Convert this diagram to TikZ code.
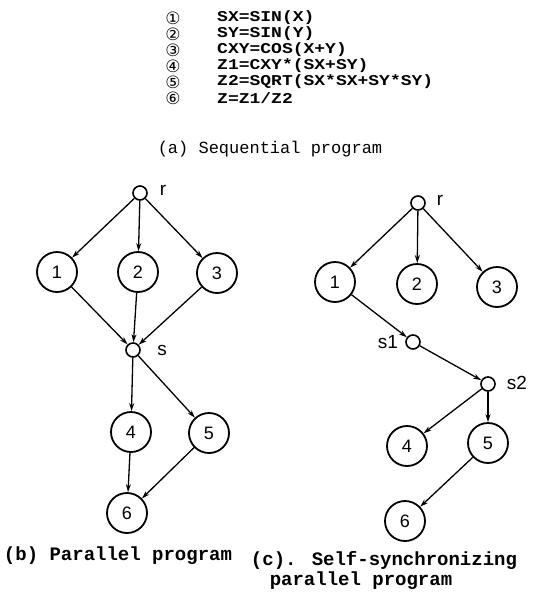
\documentclass[tikz,border=0pt]{standalone}
\usepackage{fontspec}
\setmainfont{Liberation Mono}
\newfontfamily\codefont{Liberation Mono Bold}[FakeStretch=1.2]
\newfontfamily\numfont{Liberation Sans}
\newfontfamily\symfont{DejaVu Sans}
\usetikzlibrary{arrows.meta}
\begin{document}
\begin{tikzpicture}[x=1pt,y=-1pt,
  big/.style={circle,draw,line width=1.8pt,minimum size=40pt,inner sep=0pt,
    font=\numfont\fontsize{18}{18}\selectfont},
  small/.style={circle,draw,line width=1.6pt,minimum size=14pt,inner sep=0pt},
  edge/.style={line width=1.3pt,-{Stealth[length=8pt,width=5pt]}},
  lbl/.style={font=\numfont\fontsize{19}{19}\selectfont},
  code/.style={anchor=west,inner sep=0pt,font=\codefont\fontsize{15}{15}\selectfont},
  circnum/.style={inner sep=0pt,font=\symfont\fontsize{17}{17}\selectfont},
  caption/.style={inner sep=0pt,font=\fontsize{17}{17}\selectfont},
  bcaption/.style={inner sep=0pt,font=\bfseries\fontsize{19}{19}\selectfont}]
\useasboundingbox (0,0) rectangle (538,592);

% (a) sequential program listing
\node[circnum] (n1) at (173,18) {①};
\node[circnum] (n2) at (173,34) {②};
\node[circnum] (n3) at (173,50) {③};
\node[circnum] (n4) at (173,66) {④};
\node[circnum] (n5) at (173,82) {⑤};
\node[circnum] (n6) at (173,98) {⑥};
\node[code] (l1) at (217,18) {SX=SIN(X)};
\node[code] (l2) at (217,34) {SY=SIN(Y)};
\node[code] (l3) at (217,50) {CXY=COS(X+Y)};
\node[code] (l4) at (217,66) {Z1=CXY*(SX+SY)};
\node[code] (l5) at (217,82) {Z2=SQRT(SX*SX+SY*SY)};
\node[code] (l6) at (217,98) {Z=Z1/Z2};
\node[caption] (capa) at (270,149) {(a) Sequential program};

% (b) parallel program
\node[small] (br) at (140,193) {};
\node[lbl] (brl) at (163,190) {r};
\node[big] (b1) at (57,272) {1};
\node[big] (b2) at (138,272) {2};
\node[big] (b3) at (217,273) {3};
\node[small] (bs) at (133,350) {};
\node[lbl] (bsl) at (162,350) {s};
\node[big] (b4) at (131,432) {4};
\node[big] (b5) at (209,433) {5};
\node[big] (b6) at (127,513) {6};
\draw[edge] (br) -- (b1);
\draw[edge] (br) -- (b2);
\draw[edge] (br) -- (b3);
\draw[edge] (b1) -- (bs);
\draw[edge] (b2) -- (bs);
\draw[edge] (b3) -- (bs);
\draw[edge] (bs) -- (b4);
\draw[edge] (bs) -- (b5);
\draw[edge] (b4) -- (b6);
\draw[edge] (b5) -- (b6);
\node[bcaption] (capb) at (118,556) {(b) Parallel program};

% (c) self-synchronizing parallel program
\node[small] (cr) at (418,203) {};
\node[lbl] (crl) at (440,200) {r};
\node[big] (c1) at (335,282) {1};
\node[big] (c2) at (417,284) {2};
\node[big] (c3) at (497,287) {3};
\node[small] (cs1) at (413,342) {};
\node[lbl] (cs1l) at (388,342) {s1};
\node[small] (cs2) at (488,384) {};
\node[lbl] (cs2l) at (517,383) {s2};
\node[big] (c4) at (407,446) {4};
\node[big] (c5) at (488,443) {5};
\node[big] (c6) at (405,521) {6};
\draw[edge] (cr) -- (c1);
\draw[edge] (cr) -- (c2);
\draw[edge] (cr) -- (c3);
\draw[edge] (c1) -- (cs1);
\draw[edge] (cs1) -- (cs2);
\draw[edge] (cs2) -- (c4);
\draw[edge] (cs2) -- (c5);
\draw[edge] (c5) -- (c6);
\node[bcaption] (capc1) at (384,560) {(c). Self-synchronizing};
\node[bcaption] (capc2) at (361,581) {parallel program};
\end{tikzpicture}
\end{document}
